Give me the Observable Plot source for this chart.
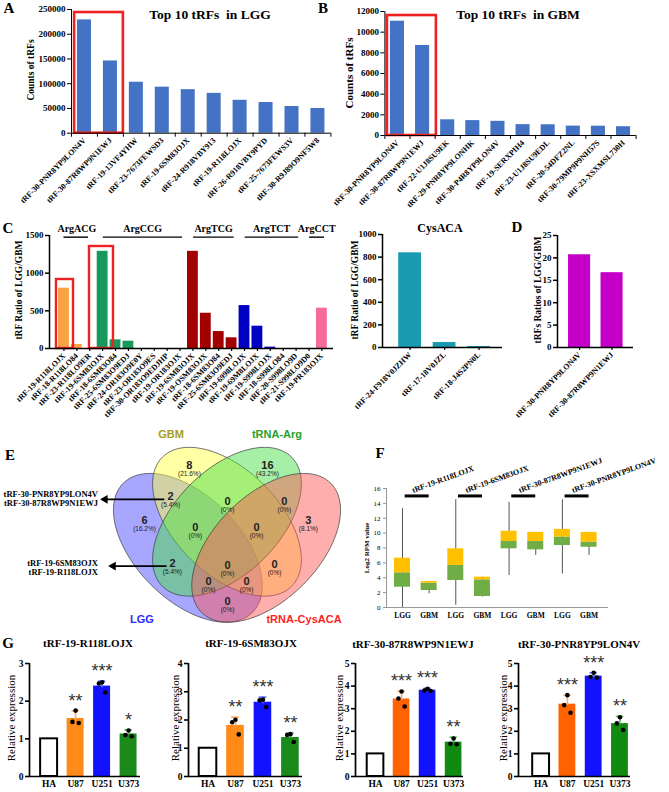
<!DOCTYPE html>
<html><head><meta charset="utf-8">
<script src="https://cdn.jsdelivr.net/npm/d3@7"></script>
<script src="https://cdn.jsdelivr.net/npm/@observablehq/plot@0.6"></script>
<style>
body{margin:0;background:#fff;}
#fig{position:relative;width:669px;height:792px;overflow:hidden;background:#fff;}
.t{position:absolute;white-space:pre;line-height:1.15;}
</style></head><body><div id="fig"></div>
<script>
// ---------------- DATA ----------------
const lggNames = ["tRF-30-PNR8YP9LON4V","tRF-30-87R8WP9N1EWJ","tRF-19-13VF4YHW","tRF-23-7673FEWSD3","tRF-19-6SM83OJX","tRF-24-R918VBY913","tRF-19-R118LOJX","tRF-26-R918VBY9PYD","tRF-25-7673FEWS3V","tRF-30-R9J89O9NF5W8"];
const lggCounts = [229000,146000,103000,93000,88000,80500,66500,62000,54000,50000];
const gbmNames = ["tRF-30-PNR8YP9LON4V","tRF-30-87R8WP9N1EWJ","tRF-22-U1J8SU9EK","tRF-29-PNR8YP9LONHK","tRF-30-P4R8YP9LON4V","tRF-19-SERXPIH4","tRF-23-U1J8SU9EDL","tRF-20-54DFZ2NL","tRF-30-79MP9P9NH57S","tRF-23-XSXMSL730H"];
const gbmCounts = [11060,8710,1520,1440,1370,1050,1040,910,900,850];

const argNames = ["tRF-19-R118LOJX","tRF-18-R118LO84","tRF-23-R118LO9ER","tRF-19-6SM83OJX","tRF-18-6SM83O84","tRF-25-6SM83O9EDJ","tRF-24-OR183O9E0Y","tRF-23-OR183O9ES","tRF-30-OR183O9EDJHP","tRF-19-OR183OJX","tRF-19-6SM83OJX","tRF-19-OSM83OJX","tRF-18-6SM83O84","tRF-25-6SM83O9EDJ","tRF-19-6998LOJX","tRF-19-69M8LOJX","tRF-19-S998LOJX","tRF-18-S998LO84","tRF-20-S998LO9D","tRF-21-S998LO9D0","tRF-19-PR183OJX"];
const argRatios = [800,53,0,1290,115,97,0,0,0,0,1290,468,225,142,570,296,18,0,0,0,535];
const argGroup = ["ArgACG","ArgACG","ArgACG","ArgCCG","ArgCCG","ArgCCG","ArgCCG","ArgCCG","ArgCCG","ArgCCG","ArgTCG","ArgTCG","ArgTCG","ArgTCG","ArgTCT","ArgTCT","ArgTCT","ArgTCT","ArgTCT","ArgCCT","ArgCCT"];
const argGroupNames = ["ArgACG","ArgCCG","ArgTCG","ArgTCT","ArgCCT"];

const cysNames = ["tRF-24-F918V0JZHW","tRF-17-18V0JZL","tRF-18-J4S2PN0L"];
const cysRatios = [838,44,9];

const sharedNames = ["tRF-30-PNR8YP9LON4V","tRF-30-87R8WP9N1EWJ"];
const sharedRatios = [20.7,16.7];

const vennSetNames = ["LGG","GBM","tRNA-Arg","tRNA-CysACA"];
const vennRegionNames = ["LGG","GBM","tRNA-Arg","tRNA-CysACA","LGG&GBM","GBM&Arg","Arg&Cys","LGG&GBM&Arg","GBM&Arg&Cys","LGG&Arg","LGG&GBM&Arg&Cys","GBM&Cys","LGG&Arg&Cys","LGG&GBM&Cys","LGG&Cys"];
const vennCounts = [6,8,16,3,2,0,0,0,0,2,0,0,0,0,0];
const vennPercents = ["16.2%","21.6%","43.2%","8.1%","5.4%","0%","0%","0%","0%","5.4%","0%","0%","0%","0%","0%"];

const boxGenes = ["tRF-19-R118LOJX","tRF-19-6SM83OJX","tRF-30-87R8WP9N1EWJ","tRF-30-PNR8YP9LON4V"];
const boxCohorts = ["LGG","GBM","LGG","GBM","LGG","GBM","LGG","GBM"];
const boxMin = [0,1.85,0.3,1.4,4.3,7.0,4.5,7.0];
const boxQ1  = [2.73,2.28,3.63,1.48,7.89,7.75,8.33,8.1];
const boxMed = [4.66,3.27,5.65,3.72,8.87,8.87,9.47,8.78];
const boxQ3  = [6.63,3.49,7.89,4.08,10.25,10.1,10.5,10.1];
const boxMax = [13.3,3.49,14.5,4.08,14.15,10.1,14.5,10.1];

const cellLines = ["HA","U87","U251","U373"];
const qpcrGenes = ["tRF-19-R118LOJX","tRF-19-6SM83OJX","tRF-30-87R8WP9N1EWJ","tRF-30-PNR8YP9LON4V"];
const qpcrMeans = [[1,1.54,2.40,1.13],[1,1.81,2.63,1.38],[1,3.43,3.82,1.52],[1,3.20,4.44,2.34]];
const qpcrSD    = [[0,0.2,0.13,0.11],[0,0.29,0.18,0.16],[0,0.35,0.08,0.22],[0,0.4,0.15,0.32]];
const qpcrReps  = [
  [[],[1.75,1.45,1.42],[2.50,2.47,2.23],[1.22,1.10,1.07]],
  [[],[2.01,1.92,1.49],[2.72,2.70,2.46],[1.50,1.47,1.22]],
  [[],[3.76,3.45,3.10],[3.88,3.80,3.78],[1.68,1.45,1.43]],
  [[],[3.60,3.16,2.82],[4.59,4.40,4.38],[2.62,2.35,2.06]]
];
const qpcrStars = [["","**","***","*"],["","**","***","**"],["","***","***","**"],["","***","***","**"]];

// ---------------- HELPERS ----------------
const fig = document.getElementById("fig");
const SERIF = "'Liberation Serif','Times New Roman',serif";
const SANS = "'Liberation Sans',Arial,sans-serif";
function place(el, left, top){ el.style.position="absolute"; el.style.left=left+"px"; el.style.top=top+"px"; fig.appendChild(el); }
function txt(s, x, y, o={}){
  const d=document.createElement("div"); d.className="t"; d.textContent=s;
  d.style.left=x+"px"; d.style.top=y+"px";
  d.style.fontSize=(o.size||10)+"px"; d.style.fontWeight=o.weight||"bold";
  d.style.fontFamily=o.family||SERIF; d.style.color=o.color||"#000";
  const tx=o.anchor==="end"?"-100%":o.anchor==="start"?"0":"-50%";
  d.style.transform=`translate(${tx},-50%)`+(o.rotate?` rotate(${o.rotate}deg)`:"");
  fig.appendChild(d);
}
const st = (fs, w="bold") => ({background:"transparent", overflow:"visible", fontFamily:SERIF, fontWeight:w, fontSize:fs+"px", color:"#000"});
const fmt = d3.format("d");

// ---------------- PANEL A ----------------
const iA = d3.range(lggCounts.length);
place(Plot.plot({
  width:335, height:210, marginLeft:71, marginRight:4.6, marginTop:9, marginBottom:77.3,
  x:{domain:[-0.5,9.5]}, y:{domain:[0,250000]}, style:st(9),
  marks:[
    Plot.rectY(iA,{x1:i=>i-0.27,x2:i=>i+0.27,y1:0,y2:i=>lggCounts[i],fill:"#4472c4"}),
    Plot.rect([0],{x1:-0.38,x2:1.5,y1:0,y2:243900,fill:"none",stroke:"#ee2222",strokeWidth:2.6}),
    Plot.ruleX([-0.5]), Plot.ruleY([0]),
    Plot.axisY({ticks:d3.range(0,250001,50000),tickSize:4,tickPadding:2,tickFormat:fmt,label:null}),
    Plot.axisX({ticks:d3.range(-0.5,10,1),tickSize:4,tickFormat:()=>"",label:null}),
    Plot.axisX({ticks:iA,tickSize:0,tickPadding:6,tickRotate:-45,textAnchor:"end",tickFormat:i=>lggNames[i],fontSize:8,label:null})
  ]
}),0,0);

// ---------------- PANEL B ----------------
const iB = d3.range(gbmCounts.length);
place(Plot.plot({
  width:339, height:210, marginLeft:54.4, marginRight:33.4, marginTop:11, marginBottom:75,
  x:{domain:[-0.5,9.5]}, y:{domain:[0,12000]}, style:st(9),
  marks:[
    Plot.rectY(iB,{x1:i=>i-0.28,x2:i=>i+0.28,y1:0,y2:i=>gbmCounts[i],fill:"#4472c4"}),
    Plot.rect([0],{x1:-0.4,x2:1.55,y1:0,y2:11610,fill:"none",stroke:"#ee2222",strokeWidth:2.6}),
    Plot.ruleX([-0.5]), Plot.ruleY([0]),
    Plot.axisY({ticks:d3.range(0,12001,2000),tickSize:4,tickPadding:2,tickFormat:fmt,label:null}),
    Plot.axisX({ticks:d3.range(-0.5,10,1),tickSize:4,tickFormat:()=>"",label:null}),
    Plot.axisX({ticks:iB,tickSize:0,tickPadding:6,tickRotate:-45,textAnchor:"end",tickFormat:i=>gbmNames[i],fontSize:8,label:null})
  ]
}),330,0);

// ---------------- PANEL C (Arg) ----------------
const argColor = {ArgACG:"#f9a342",ArgCCG:"#17995c",ArgTCG:"#a30000",ArgTCT:"#0000c4",ArgCCT:"#f76a9c"};
const iC = d3.range(argRatios.length);
const groupSpan = argGroupNames.map(g=>{const idx=iC.filter(i=>argGroup[i]===g);return {g,lo:d3.min(idx),hi:d3.max(idx)};});
place(Plot.plot({
  width:345, height:220, marginLeft:49, marginRight:12, marginTop:15, marginBottom:92,
  x:{domain:[-1.12,20.9]}, y:{domain:[0,1500]}, style:st(9),
  marks:[
    Plot.rectY(iC,{x1:i=>i-0.42,x2:i=>i+0.42,y1:0,y2:i=>argRatios[i],fill:i=>argColor[argGroup[i]]}),
    Plot.rect([0],{x1:-0.58,x2:0.74,y1:0,y2:916,fill:"none",stroke:"#ee2222",strokeWidth:2.4}),
    Plot.rect([0],{x1:1.98,x2:3.84,y1:0,y2:1354,fill:"none",stroke:"#ee2222",strokeWidth:2.4}),
    Plot.ruleY(groupSpan,{y:1478,x1:d=>d.lo+(d.g==="ArgACG"?0:0.05),x2:d=>d.hi+(d.g==="ArgACG"?-0.1:0.2),strokeWidth:1.4}),
    Plot.text(groupSpan,{x:d=>(d.lo+d.hi)/2+(d.g==="ArgACG"?0:0.1),y:1590,text:"g",fontSize:10}),
    Plot.ruleX([-1.12],{strokeWidth:1.5}), Plot.ruleY([0],{strokeWidth:1.5}),
    Plot.axisY({ticks:[0,500,1000,1500],tickSize:4,tickPadding:2,strokeWidth:1.5,tickFormat:fmt,label:null}),
    Plot.axisX({ticks:iC,tickSize:3,strokeWidth:1.2,tickPadding:3,tickRotate:-45,textAnchor:"end",tickFormat:i=>argNames[i],fontSize:8,label:null})
  ]
}),0,220);

// ---------------- PANEL C (CysACA) ----------------
const iCy = d3.range(cysRatios.length);
place(Plot.plot({
  width:175, height:213, marginLeft:42, marginRight:13, marginTop:14, marginBottom:86,
  x:{domain:[-0.8,2.68]}, y:{domain:[0,1000]}, style:st(9),
  marks:[
    Plot.rectY(iCy,{x1:i=>i-0.33,x2:i=>i+0.33,y1:0,y2:i=>cysRatios[i],fill:"#1b9bb2"}),
    Plot.ruleX([-0.8],{strokeWidth:1.5}), Plot.ruleY([0],{strokeWidth:1.5}),
    Plot.axisY({ticks:d3.range(0,1001,200),tickSize:4,tickPadding:2,strokeWidth:1.5,tickFormat:fmt,label:null}),
    Plot.axisX({ticks:iCy,tickSize:3,strokeWidth:1.2,tickPadding:3,tickRotate:-45,textAnchor:"end",tickFormat:i=>cysNames[i],fontSize:8,label:null})
  ]
}),340,220);

// ---------------- PANEL D ----------------
const iD = d3.range(sharedRatios.length);
place(Plot.plot({
  width:154, height:207, marginLeft:42, marginRight:36, marginTop:15, marginBottom:80,
  x:{domain:[-0.68,1.66]}, y:{domain:[0,25]}, style:st(9),
  marks:[
    Plot.rectY(iD,{x1:i=>i-0.34,x2:i=>i+0.34,y1:0,y2:i=>sharedRatios[i],fill:"#c400c8"}),
    Plot.ruleX([-0.68],{strokeWidth:1.5}), Plot.ruleY([0],{strokeWidth:1.5}),
    Plot.axisY({ticks:d3.range(0,26,5),tickSize:4,tickPadding:2,strokeWidth:1.5,tickFormat:fmt,label:null}),
    Plot.axisX({ticks:iD,tickSize:3,strokeWidth:1.2,tickPadding:3,tickRotate:-45,textAnchor:"end",tickFormat:i=>sharedNames[i],fontSize:8,label:null})
  ]
}),515,220);

// ---------------- PANEL E (Venn) ----------------
// layout of the standard four-ellipse Venn (unit square)
const vennShapes = [
  {cx:0.35,cy:0.47,a:0.35,b:0.2,ang:-45,fill:"#4747ff"},
  {cx:0.50,cy:0.57,a:0.35,b:0.2,ang:-45,fill:"#ffff45"},
  {cx:0.50,cy:0.57,a:0.35,b:0.2,ang:45,fill:"#45dd45"},
  {cx:0.65,cy:0.47,a:0.35,b:0.2,ang:45,fill:"#ff5656"}
];
const vennLabelPos = [[0.184,0.572],[0.356,0.783],[0.655,0.783],[0.812,0.572],[0.284,0.664],[0.502,0.645],[0.720,0.645],[0.379,0.545],[0.613,0.545],[0.291,0.407],[0.502,0.400],[0.682,0.403],[0.429,0.338],[0.575,0.338],[0.502,0.262]];
function ellipsePts(s){
  const t=s.ang*Math.PI/180;
  return d3.range(0,360,3).map(k=>{const u=k*Math.PI/180;const ex=s.a*Math.cos(u),ey=s.b*Math.sin(u);
    return {x:s.cx+ex*Math.cos(t)-ey*Math.sin(t), y:s.cy+ex*Math.sin(t)+ey*Math.cos(t)};});
}
const vennRegions = vennRegionNames.map((r,i)=>({r,n:vennCounts[i],p:"("+vennPercents[i]+")",x:vennLabelPos[i][0],y:vennLabelPos[i][1]}));
const arrows = [{y:0.656,x1:0.015,x2:0.262},{y:0.40,x1:0.046,x2:0.27}];
place(Plot.plot({
  width:261, height:261, margin:0, x:{domain:[0,1]}, y:{domain:[0,1]}, axis:null,
  style:{background:"transparent",overflow:"visible",fontFamily:SANS},
  marks:[
    ...vennShapes.map(s=>Plot.line(ellipsePts(s),{x:"x",y:"y",curve:"linear-closed",fill:s.fill,fillOpacity:0.48,stroke:"#3a3a3a",strokeWidth:0.7})),
    Plot.text(vennRegions,{x:"x",y:"y",text:d=>String(d.n),dy:-1,fontSize:11,fontWeight:"bold",fill:"#222",fontFamily:SANS}),
    Plot.text(vennRegions,{x:"x",y:"y",text:"p",dy:7.5,fontSize:6.5,fill:"#222",fontFamily:SANS}),
    Plot.ruleY(arrows,{y:"y",x1:d=>d.x1+0.02,x2:"x2",strokeWidth:1.8,stroke:"#000"}),
    Plot.dot(arrows,{x:d=>d.x1+0.018,y:"y",symbol:"triangle2",rotate:-90,r:4.2,fill:"#000"})
  ]
}),96,409.3);

// ---------------- PANEL F ----------------
const iF = d3.range(boxMed.length);
place(Plot.plot({
  width:329, height:187, marginLeft:46, marginRight:61, marginTop:48, marginBottom:20,
  x:{domain:[-0.6,7.73]}, y:{domain:[0,16]}, style:st(7,"normal"),
  marks:[
    Plot.ruleX(iF,{x:i=>i,y1:i=>boxMin[i],y2:i=>boxMax[i],stroke:"#555",strokeWidth:1}),
    Plot.rectY(iF,{x1:i=>i-0.3,x2:i=>i+0.3,y1:i=>boxQ1[i],y2:i=>boxMed[i],fill:"#70ad47"}),
    Plot.rectY(iF,{x1:i=>i-0.3,x2:i=>i+0.3,y1:i=>boxMed[i],y2:i=>boxQ3[i],fill:"#ffc000"}),
    Plot.ruleX([-0.6],{stroke:"#999"}), Plot.ruleY([0],{stroke:"#999"}),
    Plot.axisY({ticks:d3.range(0,17,2),tickSize:3,tickPadding:3,stroke:"#999",tickFormat:fmt,label:null}),
    Plot.axisX({ticks:iF,tickSize:0,tickPadding:5,tickFormat:i=>boxCohorts[i],fontWeight:"bold",fontSize:7.5,label:null}),
    Plot.ruleY(boxGenes,{y:15,x1:(d,k)=>2*k+0.1,x2:(d,k)=>2*k+1.0,strokeWidth:3,stroke:"#000"}),
    Plot.text(boxGenes,{x:(d,k)=>2*k+0.4,y:15.4,text:d=>d,rotate:-20,textAnchor:"start",lineAnchor:"bottom",fontSize:8,fontWeight:"bold"})
  ]
}),340,440);

// ---------------- PANEL G ----------------
const gFill = [["#ffffff","#ff8a18","#1212ff","#1a8a1a"],["#ffffff","#ff8a18","#1212ff","#1a8a1a"],["#ffffff","#ff6200","#1212ff","#108a10"],["#ffffff","#ff6200","#1212ff","#108a10"]];
const gErr = ["#000","#ffaa66","#5a6aff","#55bb55"];
const dotDx = [0,-0.12,0.12];
function qpcr(g,left,width,mL,xDom,yMax){
  const stats=cellLines.map((c,i)=>({i,mean:qpcrMeans[g][i],sd:qpcrSD[g][i],star:qpcrStars[g][i]}));
  const pts=[]; cellLines.forEach((c,i)=>qpcrReps[g][i].forEach((v,k)=>pts.push({i,k,v})));
  const eb=stats.filter(d=>d.sd>0);
  place(Plot.plot({
    width, height:142, marginLeft:mL, marginRight:width-mL-(xDom.w), marginTop:13, marginBottom:16,
    x:{domain:xDom.d}, y:{domain:[0,yMax]}, style:st(9.5),
    marks:[
      Plot.rectY(stats,{x1:d=>d.i-0.32,x2:d=>d.i+0.32,y1:0,y2:"mean",fill:d=>gFill[g][d.i],stroke:d=>d.i===0?"#000":"none",strokeWidth:2}),
      Plot.ruleX(eb,{x:"i",y1:d=>d.mean*0.98,y2:d=>d.mean+d.sd,stroke:d=>gErr[d.i],strokeWidth:1.6}),
      Plot.ruleY(eb,{y:d=>d.mean+d.sd,x1:d=>d.i-0.14,x2:d=>d.i+0.14,stroke:d=>gErr[d.i],strokeWidth:1.6}),
      Plot.dot(pts,{x:d=>d.i+dotDx[d.k],y:"v",r:2.3,fill:"#000"}),
      Plot.text(eb,{x:"i",y:d=>d.mean+d.sd,text:"star",dy:-4,lineAnchor:"bottom",fontSize:18,fontFamily:SANS,fontWeight:"normal",fill:"#333"}),
      Plot.ruleX([xDom.d[0]],{strokeWidth:1.7}), Plot.ruleY([0],{strokeWidth:1.7}),
      Plot.axisY({ticks:d3.range(0,yMax+1),tickSize:4,tickPadding:2,strokeWidth:1.6,tickFormat:fmt,label:null}),
      Plot.axisX({ticks:[0,1,2,3],tickSize:0,tickPadding:4,tickFormat:i=>cellLines[i],label:null})
    ]
  }),left,650);
}
qpcr(0,0,145,29,{d:[-0.74,3.45],w:111},3);
qpcr(1,160,145,28,{d:[-0.71,3.44],w:114},4);
qpcr(2,320,150,35,{d:[-0.77,3.38],w:108},5);
qpcr(3,485,150,33,{d:[-0.86,3.4],w:112},5);

// ---------------- TEXT ----------------
txt("A",9,9,{size:15}); txt("B",323,9,{size:15});
txt("Top 10 tRFs  in LGG",210,15,{size:13.5});
txt("Top 10 tRFs  in GBM",518,15,{size:13.5});
txt("Counts of tRFs",31,70,{size:9.5,rotate:-90});
txt("Counts of tRFs",349,73,{size:11,rotate:-90});
txt("C",8,229,{size:15}); txt("CysACA",440,229,{size:12}); txt("D",517,228,{size:15});
txt("tRF Ratio of LGG/GBM",19,290,{size:9.5,rotate:-90});
txt("tRF Ratio of LGG/GBM",355,290,{size:9.5,rotate:-90});
txt("tRFs Ratios of LGG/GBM",538,290,{size:9.5,rotate:-90});
txt("E",10,456,{size:15}); txt("F",380,454,{size:15}); txt("G",8,644,{size:15});
txt("GBM",171,434,{size:11,family:SANS,color:"#a89e1c"});
txt("tRNA-Arg",277,434,{size:11,family:SANS,color:"#2aa02a"});
txt("LGG",142,619,{size:11,family:SANS,color:"#2b2bff"});
txt("tRNA-CysACA",304,619,{size:11,family:SANS,color:"#ff1f1f"});
txt("tRF-30-PNR8YP9LON4V",98,495,{size:8.5,anchor:"end"});
txt("tRF-30-87R8WP9N1EWJ",98,503.5,{size:8.5,anchor:"end"});
txt("tRF-19-6SM83OJX",98,564,{size:8.5,anchor:"end"});
txt("tRF-19-R118LOJX",98,573,{size:8.5,anchor:"end"});
txt("Log2 RPM value",367,548,{size:7,rotate:-90});
[[88,643],[251,643],[413,644],[579,644]].forEach((p,k)=>txt(qpcrGenes[k],p[0],p[1],{size:11}));
[11,175,339,503].forEach(x=>txt("Relative expression",x,718,{size:11,weight:"normal",rotate:-90}));
</script></body></html>
